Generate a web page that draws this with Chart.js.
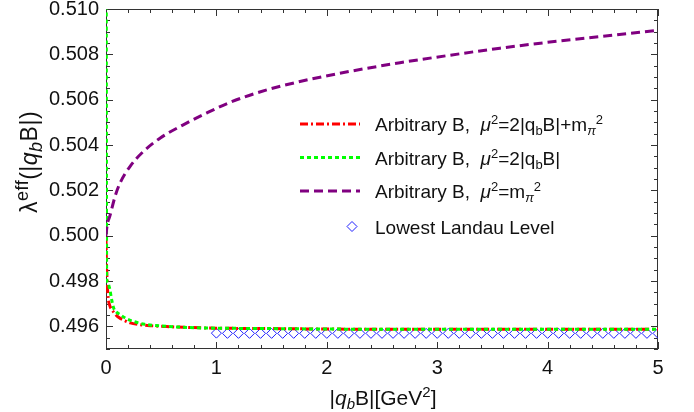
<!DOCTYPE html>
<html>
<head>
<meta charset="utf-8">
<script src="https://cdn.jsdelivr.net/npm/chart.js@4.4.1/dist/chart.umd.min.js"></script>
<style>
  body { margin: 0; background: #fff; }
  canvas { display: block; }
</style>
</head>
<body>
<canvas id="chart" width="694" height="412"></canvas>
<script>
// tick labels
const xTickVals = [0, 1, 2, 3, 4, 5];
const yTickVals = [0.496, 0.498, 0.500, 0.502, 0.504, 0.506, 0.508, 0.510];

// Arbitrary B, mu^2 = 2|qB| + m_pi^2 (red, dash-dot)
const redX = [0, 0.002, 0.005, 0.01, 0.02, 0.035, 0.05, 0.07, 0.1, 0.13, 0.17, 0.22, 0.3, 0.4, 0.55, 0.7, 1.0, 1.5, 2, 3, 4, 5];
const redY = [0.49995, 0.4993, 0.4987, 0.4980, 0.49725, 0.4969, 0.49675, 0.49662, 0.49645, 0.49635, 0.49625, 0.49615, 0.49608, 0.49603, 0.49599, 0.49596, 0.49592, 0.4959, 0.49588, 0.49587, 0.49587, 0.49587];

// Arbitrary B, mu^2 = 2|qB| (green, dotted)
const greenX = [0.002, 0.006, 0.015, 0.036, 0.051, 0.07, 0.09, 0.127, 0.18, 0.247, 0.35, 0.55, 0.8, 1.0, 1.5, 2, 3, 4, 5];
const greenY = [0.5120, 0.4981, 0.4979, 0.4976, 0.49718, 0.4968, 0.49665, 0.49652, 0.49635, 0.49622, 0.49609, 0.49600, 0.49594, 0.49592, 0.4959, 0.49588, 0.49587, 0.49587, 0.49587];

// Arbitrary B, mu^2 = m_pi^2 (purple, dashed)
const purpleX = [0, 0.01, 0.036, 0.082, 0.127, 0.217, 0.338, 0.489, 0.7, 0.911, 1.123, 1.4, 1.757, 2.2, 2.663, 3.1, 3.569, 4.0, 4.475, 5];
const purpleY = [0.5000, 0.50045, 0.50088, 0.50173, 0.50232, 0.50305, 0.50371, 0.5043, 0.50489, 0.50541, 0.50588, 0.50635, 0.5068, 0.50724, 0.50763, 0.50795, 0.50827, 0.50853, 0.50878, 0.50906];

// Lowest Landau Level (blue diamonds)
const lllX = [1.0, 1.1, 1.2, 1.3, 1.4, 1.5, 1.6, 1.7, 1.8, 1.9, 2.0, 2.1, 2.2, 2.3, 2.4, 2.5, 2.6, 2.7, 2.8, 2.9, 3.0,
              3.1, 3.2, 3.3, 3.4, 3.5, 3.6, 3.7, 3.8, 3.9, 4.0, 4.1, 4.2, 4.3, 4.4, 4.5, 4.6, 4.7, 4.8, 4.9, 5.0];
const lllY = [0.49570, 0.49569, 0.49569, 0.49569, 0.49569, 0.49569, 0.49569, 0.49569, 0.49569, 0.49569, 0.49569,
              0.49569, 0.49569, 0.49569, 0.49569, 0.49569, 0.49569, 0.49569, 0.49569, 0.49569, 0.49569,
              0.49569, 0.49569, 0.49569, 0.49569, 0.49569, 0.49569, 0.49569, 0.49569, 0.49569, 0.49569,
              0.49569, 0.49569, 0.49569, 0.49569, 0.49569, 0.49569, 0.49569, 0.49569, 0.49569, 0.49569];

// legend labels as rich-text pieces [text, style]
const legendLabels = [
  [['Arbitrary B,  ', 'n'], ['\u03bc', 'i'], ['2', 'sup'], ['=2|q', 'n'], ['b', 'sub'], ['B|+m', 'n'], ['\u03c0', 'isub'], ['2', 'sup']],
  [['Arbitrary B,  ', 'n'], ['\u03bc', 'i'], ['2', 'sup'], ['=2|q', 'n'], ['b', 'sub'], ['B|', 'n']],
  [['Arbitrary B,  ', 'n'], ['\u03bc', 'i'], ['2', 'sup'], ['=m', 'n'], ['\u03c0', 'isub'], ['2', 'sup']],
  [['Lowest Landau Level', 'n']]
];
const xTitle = [['|', 'n'], ['q', 'i'], ['b', 'isub'], ['B|[GeV', 'n'], ['2', 'sup'], [']', 'n']];
const yTitle = [['\u03bb', 'n'], ['eff', 'sup'], ['(|', 'n'], ['q', 'i'], ['b', 'isub'], ['B|)', 'n']];

const FONT = '"Liberation Sans", Arial, sans-serif';
const RED = 'rgb(255,0,0)';
const GREEN = 'rgb(0,255,0)';
const PURPLE = 'rgb(128,0,128)';
const BLUE = 'rgb(30,30,255)';

function pts(xs, ys) {
    return xs.map((v, i) => ({ x: v, y: ys[i] }));
}

// size: main font size, small: sub/sup size
function segFont(style, size, small) {
    if (style === 'i') return 'italic ' + size + 'px ' + FONT;
    if (style === 'sup' || style === 'sub') return small + 'px ' + FONT;
    if (style === 'isub') return 'italic ' + small + 'px ' + FONT;
    return size + 'px ' + FONT;
}
function segShift(style, size) {
    if (style === 'sup') return -Math.round(size * 0.38);
    if (style === 'sub' || style === 'isub') return Math.round(size * 0.2);
    return 0;
}
function richWidth(ctx, segs, size, small) {
    let w = 0;
    segs.forEach(s => { ctx.font = segFont(s[1], size, small); w += ctx.measureText(s[0]).width; });
    return w;
}
function drawRich(ctx, segs, x, y, size, small) {
    segs.forEach(s => {
        ctx.font = segFont(s[1], size, small);
        ctx.fillText(s[0], x, y + segShift(s[1], size));
        x += ctx.measureText(s[0]).width;
    });
}

const framePlugin = {
    id: 'frame',
    beforeDatasetsDraw(chart) {
        const { ctx, chartArea: a, scales } = chart;
        const xs = scales.x, ys = scales.y;
        ctx.save();
        ctx.strokeStyle = '#333';
        ctx.lineWidth = 1;
        ctx.strokeRect(a.left + 0.5, a.top + 0.5, a.right - a.left - 1, a.bottom - a.top - 1);
        ctx.beginPath();
        // x ticks every 0.2, major every 1
        for (let i = 0; i <= 25; i++) {
            const px = Math.round(xs.getPixelForValue(i * 0.2)) + 0.5;
            const len = i % 5 === 0 ? 7 : 4;
            ctx.moveTo(px, a.bottom); ctx.lineTo(px, a.bottom - len);
            ctx.moveTo(px, a.top); ctx.lineTo(px, a.top + len);
        }
        // y ticks every 0.0005, major every 0.002
        for (let i = 0; i <= 30; i++) {
            const v = 0.495 + i * 0.0005;
            const py = Math.round(ys.getPixelForValue(v)) + 0.5;
            const len = (i - 2) % 4 === 0 ? 7 : 4;
            ctx.moveTo(a.left, py); ctx.lineTo(a.left + len, py);
            ctx.moveTo(a.right, py); ctx.lineTo(a.right - len, py);
        }
        ctx.stroke();
        ctx.restore();
    },
    afterDraw(chart) {
        const { ctx } = chart;
        ctx.save();
        ctx.fillStyle = '#111';
        ctx.textBaseline = 'alphabetic';

        // axis titles
        drawRich(ctx, xTitle, 383 - richWidth(ctx, xTitle, 21, 15) / 2, 405, 21, 15);
        ctx.save();
        ctx.translate(37, 162);
        ctx.rotate(-Math.PI / 2);
        ctx.letterSpacing = '0.5px';
        drawRich(ctx, yTitle, -richWidth(ctx, yTitle, 23, 18) / 2, 0, 23, 18);
        ctx.letterSpacing = '0px';
        ctx.restore();

        // legend
        const rows = [124, 157.5, 191, 226.5];
        const samples = [
            { color: RED, dash: [8, 3, 2, 3] },
            { color: GREEN, dash: [4, 3] },
            { color: PURPLE, dash: [9, 5] }
        ];
        ctx.lineWidth = 3;
        samples.forEach((s, i) => {
            ctx.strokeStyle = s.color;
            ctx.setLineDash(s.dash);
            ctx.beginPath();
            ctx.moveTo(300, rows[i]);
            ctx.lineTo(360, rows[i]);
            ctx.stroke();
        });
        ctx.setLineDash([]);
        ctx.lineWidth = 1;
        ctx.strokeStyle = BLUE;
        ctx.beginPath();
        ctx.moveTo(352, rows[3] - 5);
        ctx.lineTo(357, rows[3]);
        ctx.lineTo(352, rows[3] + 5);
        ctx.lineTo(347, rows[3]);
        ctx.closePath();
        ctx.stroke();

        ctx.fillStyle = '#111';
        legendLabels.forEach((segs, i) => drawRich(ctx, segs, 375, rows[i] + 7, 19, 13));
        ctx.restore();
    }
};

const ctx = document.getElementById('chart').getContext('2d');
new Chart(ctx, {
    type: 'scatter',
    data: {
        datasets: [
            {
                label: 'Arbitrary B, mu2=2|qbB|+mpi2',
                data: pts(redX, redY),
                showLine: true,
                borderColor: RED,
                borderWidth: 3,
                borderDash: [8, 3, 2, 3],
                pointRadius: 0,
                cubicInterpolationMode: 'monotone',
                clip: 0,
                order: 3
            },
            {
                label: 'Arbitrary B, mu2=2|qbB|',
                data: pts(greenX, greenY),
                showLine: true,
                borderColor: GREEN,
                borderWidth: 3,
                borderDash: [4, 3],
                pointRadius: 0,
                cubicInterpolationMode: 'monotone',
                clip: 0,
                order: 2
            },
            {
                label: 'Arbitrary B, mu2=mpi2',
                data: pts(purpleX, purpleY),
                showLine: true,
                borderColor: PURPLE,
                borderWidth: 3,
                borderDash: [9, 5],
                pointRadius: 0,
                cubicInterpolationMode: 'monotone',
                clip: 0,
                order: 1
            },
            {
                label: 'Lowest Landau Level',
                data: pts(lllX, lllY),
                showLine: false,
                pointStyle: 'rectRot',
                pointRadius: 5,
                borderWidth: 1,
                borderColor: BLUE,
                backgroundColor: 'rgba(0,0,0,0)',
                clip: 0,
                order: 4
            }
        ]
    },
    options: {
        responsive: false,
        animation: false,
        layout: { padding: { top: 9, right: 36, left: 0, bottom: 0 } },
        plugins: {
            legend: { display: false },
            tooltip: { enabled: false }
        },
        scales: {
            x: {
                type: 'linear',
                min: 0,
                max: 5,
                afterBuildTicks: s => { s.ticks = xTickVals.map(v => ({ value: v })); },
                afterFit: s => { s.height = 63; s.paddingLeft = 0; s.paddingRight = 0; },
                grid: { display: false, drawTicks: false },
                border: { display: false },
                ticks: {
                    font: { family: FONT, size: 20 },
                    color: '#111',
                    padding: 7,
                    maxRotation: 0,
                    callback: v => String(v)
                }
            },
            y: {
                type: 'linear',
                min: 0.495,
                max: 0.510,
                afterBuildTicks: s => { s.ticks = yTickVals.map(v => ({ value: v })); },
                afterFit: s => { s.width = 106; s.paddingTop = 0; s.paddingBottom = 0; },
                grid: { display: false, drawTicks: false },
                border: { display: false },
                ticks: {
                    font: { family: FONT, size: 20 },
                    color: '#111',
                    padding: 7,
                    callback: v => v.toFixed(3)
                }
            }
        }
    },
    plugins: [framePlugin]
});
</script>
</body>
</html>
